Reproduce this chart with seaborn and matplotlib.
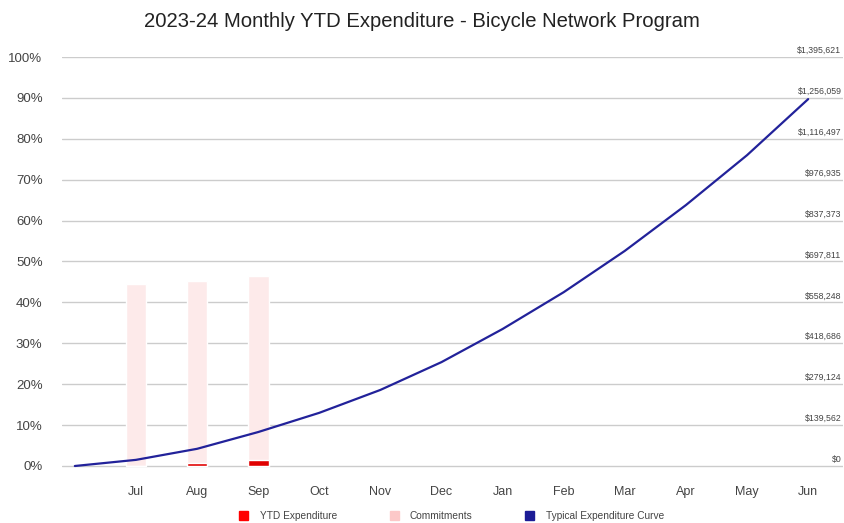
import pandas as pd
import matplotlib.pyplot as plt
import matplotlib.patches as mpatches
import matplotlib.transforms as mtransforms
import seaborn as sns

# data
months = ["", "Jul", "Aug", "Sep", "Oct", "Nov", "Dec", "Jan", "Feb", "Mar", "Apr", "May", "Jun"]
curve_pct = [0, 1.5, 4.2, 8.3, 13.0, 18.6, 25.4, 33.5, 42.5, 52.6, 63.8, 76.0, 89.7]
bar_months = ["Jul", "Aug", "Sep"]
commit_pct = [44.5, 45.2, 46.4]
ytd_pct = [0.0, 0.75, 1.4]
pct_ticks = [0, 10, 20, 30, 40, 50, 60, 70, 80, 90, 100]
dollar_labels = ["$0", "$139,562", "$279,124", "$418,686", "$558,248", "$697,811",
                 "$837,373", "$976,935", "$1,116,497", "$1,256,059", "$1,395,621"]

pos = {m: i for i, m in enumerate(months)}
curve_df = pd.DataFrame({"x": range(len(months)), "pct": curve_pct})
bar_df = pd.DataFrame({"x": [pos[m] for m in bar_months], "commit": commit_pct, "ytd": ytd_pct})

sns.set_theme(style="white")
plt.rcParams['font.family'] = ['Liberation Sans', 'DejaVu Sans']

fig = plt.figure(figsize=(8.44, 5.23), dpi=100)
# axes spans y 57..468 px so the 0% gridline is fully drawn
ax = fig.add_axes([62 / 844, 1 - 468 / 523, (843 - 62) / 844, (468 - 57) / 523])

red = "#e00000"
pink = "#fdeaea"
navy = "#22229a"

sns.barplot(data=bar_df, x="x", y="commit", native_scale=True, width=0.34,
            color=pink, saturation=1, ax=ax, zorder=2)
sns.barplot(data=bar_df, x="x", y="ytd", native_scale=True, width=0.34,
            color=red, saturation=1, ax=ax, zorder=3)
sns.lineplot(data=curve_df, x="x", y="pct", color=navy, linewidth=1.6, ax=ax, zorder=4)
for l in ax.lines:
    l.set_clip_on(False)

ax.set_xlim(-0.21, 12.57)
ax.set_ylim(-0.49, 100)
ax.set_yticks(pct_ticks)
ax.set_yticklabels([f"{p}%" for p in pct_ticks], fontsize=9.5, color="#444444")
ax.set_xticks(range(1, len(months)))
ax.set_xticklabels(months[1:], fontsize=9, color="#444444")
ax.tick_params(axis="y", length=0, pad=14)
ax.tick_params(axis="x", length=0, pad=13)
ax.set_xlabel("")
ax.set_ylabel("")
ax.grid(axis="y", color="#cccccc", linewidth=1, zorder=0)
ax.set_axisbelow(True)
for s in ax.spines.values():
    s.set_visible(False)

# right-hand dollar labels sitting above the gridlines
trans = mtransforms.blended_transform_factory(ax.transAxes, ax.transData)
for p, lab in zip(pct_ticks, dollar_labels):
    ax.text(0.998, p + 0.5, lab, transform=trans, ha="right", va="bottom",
            fontsize=6.3, color="#444444")

fig.suptitle("2023-24 Monthly YTD Expenditure - Bicycle Network Program",
             fontsize=14.6, y=0.978, color="#222222")

handles = [mpatches.Patch(color="#ff0000", label="YTD Expenditure"),
           mpatches.Patch(color="#fcc8c8", label="Commitments"),
           mpatches.Patch(color="#1c1c96", label="Typical Expenditure Curve")]
fig.legend(handles=handles, loc="lower center", bbox_to_anchor=(0.535, -0.014), ncol=3,
           frameon=False, fontsize=7.3, handlelength=0.9, handleheight=0.9,
           columnspacing=5.2, handletextpad=1.1, labelcolor="#444444")

fig.savefig("out.png", dpi=100)
